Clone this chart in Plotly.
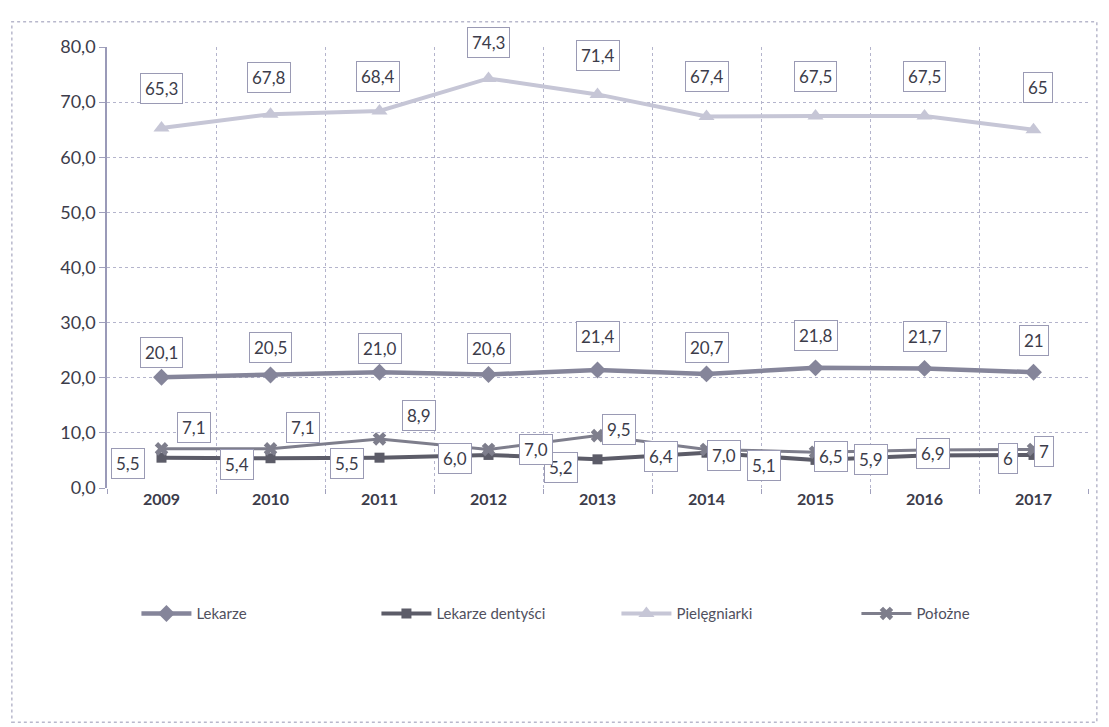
import plotly.graph_objects as go

years = ["2009", "2010", "2011", "2012", "2013", "2014", "2015", "2016", "2017"]
lekarze = [20.1, 20.5, 21.0, 20.6, 21.4, 20.7, 21.8, 21.7, 21]
dentysci = [5.5, 5.4, 5.5, 6.0, 5.2, 6.4, 5.1, 5.9, 6]
pielegniarki = [65.3, 67.8, 68.4, 74.3, 71.4, 67.4, 67.5, 67.5, 65]
polozne = [7.1, 7.1, 8.9, 7.0, 9.5, 7.0, 6.5, 6.9, 7]
y_ticks = [0, 10, 20, 30, 40, 50, 60, 70, 80]

FONT = "Lato"
TXT = "#3c3c4a"

def fmt(v):
    return str(v).replace(".", ",")

series = [
    ("Lekarze", lekarze, "#85859a", "diamond", 13, 4.5),
    ("Lekarze dentyści", dentysci, "#5c5c68", "square", 10, 4),
    ("Pielęgniarki", pielegniarki, "#c6c6d6", "triangle-up", 14, 4),
    ("Położne", polozne, "#7e7e8c", "x", 12, 3),
]

fig = go.Figure()
for name, vals, col, sym, ms, lw in series:
    fig.add_trace(go.Scatter(
        x=years, y=vals, name=name, mode="lines+markers",
        line=dict(color=col, width=lw),
        marker=dict(symbol=sym, size=ms, color=col, line=dict(width=0)),
    ))

# label offsets (pixels) per series
lab_style = {
    "Lekarze": ([0] * 9, [25, 27, 24, 26, 34, 26, 32, 32, 32]),
    "Pielęgniarki": ([0, -2, -2, 0, 0, 0, 0, 0, 4], [40, 37, 34, 36, 39, 40, 39, 39, 42]),
    "Lekarze dentyści": ([-34, -34, -33, -34, -37, -46, -52, -54, -26], [-6, -6, -6, -4, -8, -4, -6, -4, -4]),
    "Położne": ([32, 32, 39, 47, 21, 17, 15, 8, 10], [21, 21, 23, 0, 6, -6, -4, -4, -2]),
}
order = ["Lekarze", "Pielęgniarki", "Lekarze dentyści", "Położne"]
data_map = {s[0]: s[1] for s in series}
for name in order:
    dxs, dys = lab_style[name]
    for i, v in enumerate(data_map[name]):
        fig.add_annotation(
            x=i, y=v, text=fmt(v), showarrow=False,
            xshift=dxs[i], yshift=dys[i],
            font=dict(family=FONT, size=17, color=TXT),
            bgcolor="white", bordercolor="#9a9ab4", borderwidth=1, borderpad=4,
        )

# outer chart frame
fig.add_shape(type="rect", xref="paper", yref="paper",
              x0=-0.097, x1=1.009, y0=-0.531, y1=1.057,
              line=dict(color="#b8b8cc", width=1.5, dash="dot"), layer="below")

fig.update_layout(
    width=1109, height=727,
    margin=dict(l=107, r=21, t=47, b=239),
    paper_bgcolor="white", plot_bgcolor="white",
    showlegend=True,
    legend=dict(orientation="h", x=0.03, y=-0.285, xanchor="left", yanchor="middle",
                font=dict(family=FONT, size=15, color="#50505e"),
                entrywidth=175, entrywidthmode="pixels", itemwidth=50),
    xaxis=dict(type="category", tickson="boundaries", showgrid=True,
               gridcolor="#b4b4cc", griddash="dot", gridwidth=1,
               ticks="outside", ticklen=5, tickcolor="#a0a0bc",
               showline=False, zeroline=False,
               tickfont=dict(family=FONT, size=16, color=TXT, weight="bold"),
               range=[-0.5, 8.5]),
    yaxis=dict(range=[0, 80], tickvals=y_ticks,
               ticktext=[fmt(float(t)) for t in y_ticks],
               showgrid=True, gridcolor="#b4b4cc", griddash="dot", gridwidth=1,
               showline=True, linecolor="#9a9ab8", linewidth=1.5,
               ticks="outside", ticklen=6, tickcolor="#a0a0bc",
               zeroline=False,
               tickfont=dict(family=FONT, size=18, color=TXT)),
    font=dict(family=FONT),
)

fig.write_html("out.html")
